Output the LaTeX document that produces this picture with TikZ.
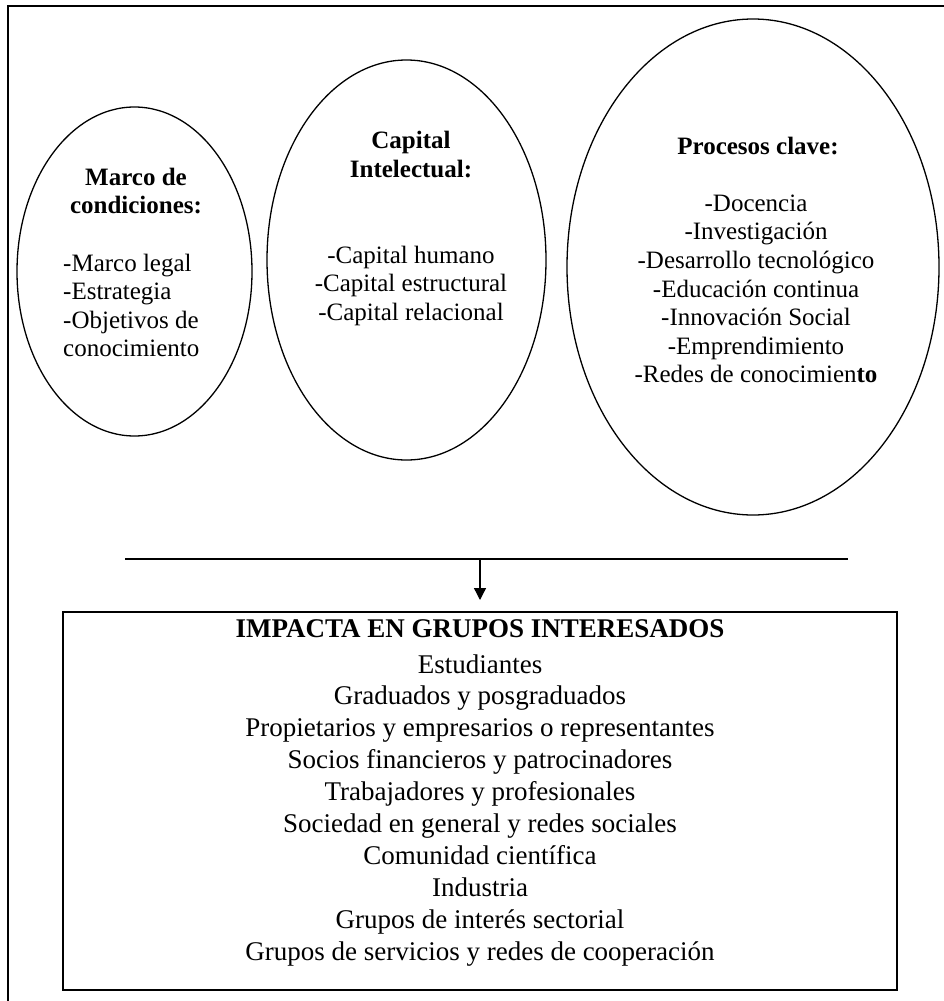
\documentclass[tikz,border=0pt]{standalone}
\usepackage{fontspec}
\setmainfont{Liberation Serif}
\usetikzlibrary{shapes.geometric,arrows.meta}
\begin{document}
\begin{tikzpicture}[x=1pt,y=-1pt,
  oval/.style={draw, ellipse, line width=1.3pt, inner sep=0pt, outer sep=0pt},
  etxt/.style={font=\fontsize{25}{28.6}\selectfont, inner sep=0pt, anchor=base},
  etxtb/.style={font=\fontsize{25}{28.6}\selectfont\bfseries, inner sep=0pt, anchor=base},
  eleft/.style={font=\fontsize{25}{28.6}\selectfont, inner sep=0pt, anchor=base west},
  btxt/.style={font=\fontsize{27}{31.3}\selectfont, inner sep=0pt, anchor=base},
  btxtb/.style={font=\fontsize{27}{31.3}\selectfont\bfseries, inner sep=0pt, anchor=base},
  framed/.style={line width=1.3pt},
  conn/.style={line width=1.3pt},
  arr/.style={line width=1.3pt, -{Triangle[width=12pt,length=12pt]}},
  impactbox/.style={draw, line width=1.6pt, inner sep=0pt, outer sep=0pt}
]
\path[use as bounding box] (0,0) rectangle (944,1001);
\clip (0,0) rectangle (944,1001);
% outer frame (cut off at right and bottom)
\draw[framed] (970,6) -- (8,6) -- (8,1030);

% ellipses
\node[oval, minimum width=235pt, minimum height=329pt] (e1) at (134.5,271.5) {};
\node[oval, minimum width=279pt, minimum height=400pt] (e2) at (406.5,260) {};
\node[oval, minimum width=372pt, minimum height=496pt] (e3) at (753,267) {};

% ellipse 1 text
\node[etxtb] (e1a) at (136,185) {Marco de};
\node[etxtb] (e1b) at (136,213.5) {condiciones:};
\node[eleft] (e1c) at (63,271) {-Marco legal};
\node[eleft] (e1d) at (63,299.5) {-Estrategia};
\node[eleft] (e1e) at (63,328) {-Objetivos de};
\node[eleft] (e1f) at (63,356.5) {conocimiento};

% ellipse 2 text
\node[etxtb] (e2a) at (411,148) {Capital};
\node[etxtb] (e2b) at (411,177) {Intelectual:};
\node[etxt] (e2c) at (411,263) {-Capital humano};
\node[etxt] (e2d) at (411,291.6) {-Capital estructural};
\node[etxt] (e2e) at (411,320.2) {-Capital relacional};

% ellipse 3 text
\node[etxtb] (e3a) at (758,154) {Procesos clave:};
\node[etxt] (e3b) at (756,211.2) {-Docencia};
\node[etxt] (e3c) at (756,239.8) {-Investigación};
\node[etxt] (e3d) at (756,268.4) {-Desarrollo tecnológico};
\node[etxt] (e3e) at (756,297) {-Educación continua};
\node[etxt] (e3f) at (756,325.6) {-Innovación Social};
\node[etxt] (e3g) at (756,354.2) {-Emprendimiento};
\node[etxt] (e3h) at (756,382.8) {-Redes de conocimien\textbf{to}};

% box
\node[impactbox, minimum width=834pt, minimum height=378pt] (box) at (480,801) {};
\node[btxtb] (h) at (480,637) {IMPACTA EN GRUPOS INTERESADOS};
\node[btxt] (g1) at (480,673) {Estudiantes};
\node[btxt] (g2) at (480,704.9) {Graduados y posgraduados};
\node[btxt] (g3) at (480,736.8) {Propietarios y empresarios o representantes};
\node[btxt] (g4) at (480,768.7) {Socios financieros y patrocinadores};
\node[btxt] (g5) at (480,800.6) {Trabajadores y profesionales};
\node[btxt] (g6) at (480,832.5) {Sociedad en general y redes sociales};
\node[btxt] (g7) at (480,864.4) {Comunidad científica};
\node[btxt] (g8) at (480,896.3) {Industria};
\node[btxt] (g9) at (480,928.2) {Grupos de interés sectorial};
\node[btxt] (g10) at (480,960.1) {Grupos de servicios y redes de cooperación};

% connector
\coordinate (hl) at (125,559);
\coordinate (hr) at (848,559);
\draw[conn] (hl) -- (hr);
\draw[arr, shorten >=12pt] (box.north |- hl) -- (box.north);
\end{tikzpicture}
\end{document}
